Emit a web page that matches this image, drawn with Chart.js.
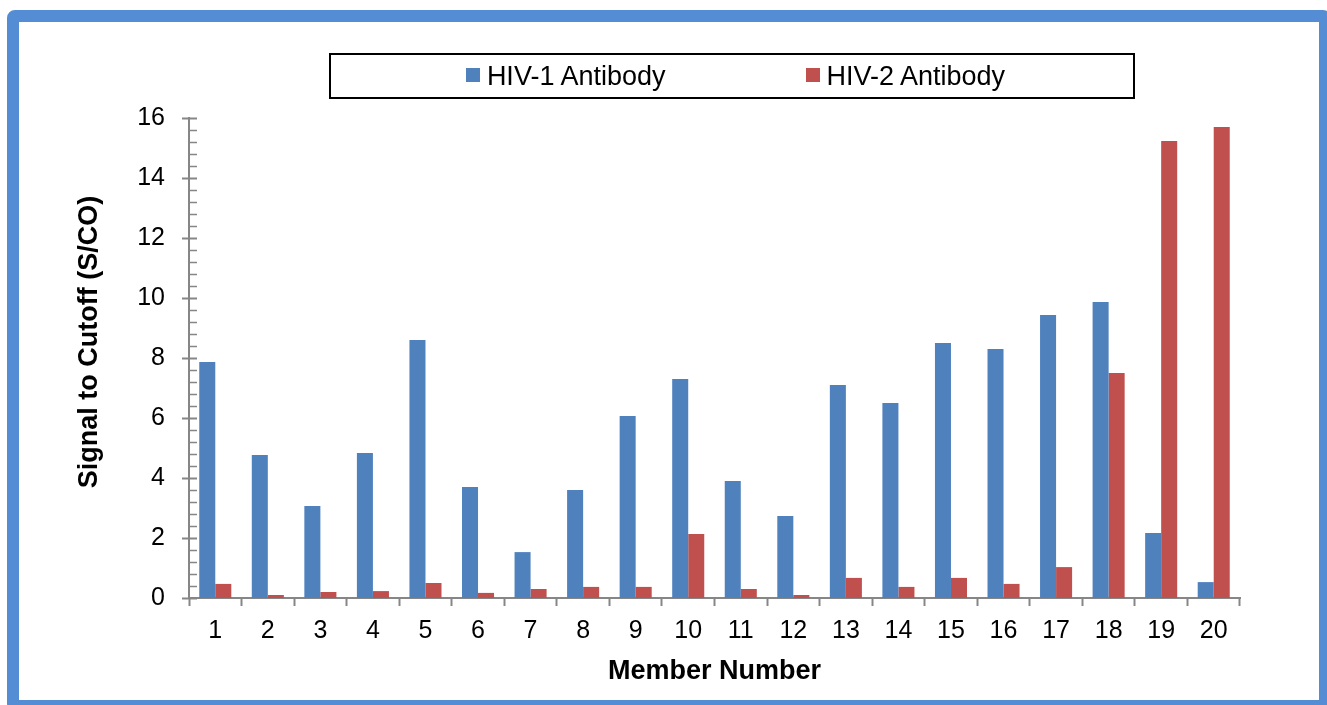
<!DOCTYPE html>
<html lang="en">
<head>
    <meta charset="UTF-8">
    <title>HIV Antibody S/CO by Member</title>
    <script src="https://cdn.jsdelivr.net/npm/chart.js"></script>
    <style>
        body {
            margin: 0;
            width: 1327px;
            height: 705px;
            overflow: hidden;
            background: #fff;
            font-family: "Liberation Sans", Arial, sans-serif;
        }
        .frame {
            position: absolute;
            left: 7px;
            top: 10px;
            width: 1324px;
            height: 702px;
            box-sizing: border-box;
            border: 12px solid #548DD4;
            border-radius: 8px;
        }
        #chartWrap {
            position: absolute;
            left: 19px;
            top: 22px;
        }
        .legend {
            position: absolute;
            left: 329px;
            top: 53px;
            width: 806px;
            height: 46px;
            box-sizing: border-box;
            border: 2px solid #000;
            padding-left: 7px;
            display: flex;
            align-items: center;
            justify-content: center;
            gap: 140px;
            font-size: 27px;
            color: #000;
        }
        .legend span.box {
            display: inline-block;
            width: 14px;
            height: 14px;
            margin-right: 7px;
            vertical-align: middle;
            position: relative;
            top: -2px;
        }
    </style>
</head>
<body>

    <div class="frame"></div>
    <div id="chartWrap">
        <canvas id="chart" width="1300" height="678"></canvas>
    </div>
    <div class="legend" id="legend"></div>

    <script>
        // valores
        const members = ['1', '2', '3', '4', '5', '6', '7', '8', '9', '10',
                         '11', '12', '13', '14', '15', '16', '17', '18', '19', '20'];
        const hiv1 = [7.87, 4.77, 3.07, 4.83, 8.6, 3.7, 1.53, 3.6, 6.07, 7.3,
                      3.9, 2.73, 7.1, 6.5, 8.5, 8.3, 9.43, 9.87, 2.17, 0.53];
        const hiv2 = [0.47, 0.1, 0.2, 0.23, 0.5, 0.17, 0.3, 0.37, 0.37, 2.13,
                      0.3, 0.1, 0.67, 0.37, 0.67, 0.47, 1.03, 7.5, 15.23, 15.7];
        const seriesNames = ['HIV-1 Antibody', 'HIV-2 Antibody'];
        const seriesColors = ['#4F81BD', '#C0504D'];
        const yTitle = 'Signal to Cutoff (S/CO)';
        const xTitle = 'Member Number';

        const axisColor = '#868686';
        const fontFamily = '"Liberation Sans", Arial, sans-serif';

        // ticks menores del eje Y (cada 0.4) y mayores (cada 2)
        const yTicksPlugin = {
            id: 'yTicks',
            afterDraw(chart) {
                const ctx = chart.ctx;
                const y = chart.scales.y;
                const x0 = chart.chartArea.left;
                ctx.save();
                ctx.strokeStyle = axisColor;
                for (let i = 0; i <= 40; i++) {
                    const py = Math.round(y.getPixelForValue(i * 0.4)) + 0.5;
                    const major = i % 5 === 0;
                    ctx.lineWidth = major ? 2 : 1.5;
                    ctx.beginPath();
                    ctx.moveTo(major ? x0 - 7 : x0, py);
                    ctx.lineTo(x0 + 8, py);
                    ctx.stroke();
                }
                ctx.restore();
            }
        };

        // titulo del eje Y, centrado como en el original
        const yTitlePlugin = {
            id: 'yTitle',
            afterDraw(chart) {
                const ctx = chart.ctx;
                ctx.save();
                ctx.translate(71, 320);
                ctx.rotate(-Math.PI / 2);
                ctx.font = 'bold 27px ' + fontFamily;
                ctx.fillStyle = '#000';
                ctx.textAlign = 'center';
                ctx.textBaseline = 'middle';
                ctx.fillText(yTitle, 0, 0);
                ctx.restore();
            }
        };

        const ctx = document.getElementById('chart').getContext('2d');
        const chart = new Chart(ctx, {
            type: 'bar',
            data: {
                labels: members,
                datasets: [
                    { label: seriesNames[0], data: hiv1, backgroundColor: seriesColors[0] },
                    { label: seriesNames[1], data: hiv2, backgroundColor: seriesColors[1] }
                ]
            },
            options: {
                responsive: false,
                animation: false,
                categoryPercentage: 0.61,
                barPercentage: 1,
                layout: {
                    padding: { left: 0, right: 79, top: 96, bottom: 0 }
                },
                plugins: {
                    legend: { display: false },
                    tooltip: { enabled: false }
                },
                scales: {
                    x: {
                        afterFit: scale => { scale.height = 102; },
                        grid: {
                            display: true,
                            drawOnChartArea: false,
                            offset: true,
                            tickLength: 8,
                            tickColor: axisColor,
                            tickWidth: 2
                        },
                        border: { color: axisColor, width: 2 },
                        ticks: {
                            color: '#000',
                            padding: 10,
                            font: { family: fontFamily, size: 25 }
                        },
                        title: {
                            display: true,
                            text: xTitle,
                            color: '#000',
                            padding: { top: 0, bottom: 12 },
                            font: { family: fontFamily, size: 27, weight: 'bold' }
                        }
                    },
                    y: {
                        min: 0,
                        max: 16,
                        afterFit: scale => { scale.width = 170; },
                        grid: { display: false },
                        border: { display: true, color: axisColor, width: 2 },
                        ticks: {
                            stepSize: 2,
                            color: '#000',
                            padding: 16,
                            font: { family: fontFamily, size: 25 }
                        }
                    }
                }
            },
            plugins: [yTicksPlugin, yTitlePlugin]
        });

        // leyenda en HTML con recuadro
        const legend = document.getElementById('legend');
        seriesNames.forEach((name, i) => {
            const item = document.createElement('div');
            item.innerHTML = '<span class="box" style="background:' + seriesColors[i] + '"></span>' + name;
            legend.appendChild(item);
        });
    </script>
</body>
</html>
